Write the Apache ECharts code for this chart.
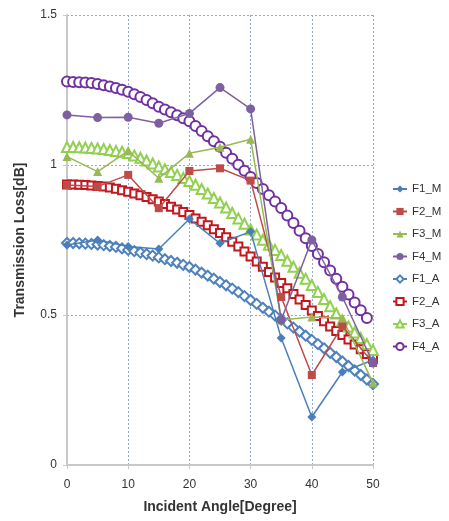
<!DOCTYPE html>
<html>
<head>
<meta charset="utf-8">
<script src="https://cdn.jsdelivr.net/npm/echarts@6/dist/echarts.min.js"></script>
<style>
  html, body { margin: 0; padding: 0; background: #fff; }
  #chart { width: 449px; height: 521px; }
</style>
</head>
<body>
<div id="chart"></div>
<script>
// Incident angles (degrees)
const measuredAngles = [0, 5, 10, 15, 20, 25, 30, 35, 40, 45, 50];
const analyticAngles = [0,1,2,3,4,5,6,7,8,9,10,11,12,13,14,15,16,17,18,19,20,21,22,23,24,25,
  26,27,28,29,30,31,32,33,34,35,36,37,38,39,40,41,42,43,44,45,46,47,48,49,50];

// Measured transmission loss [dB]
const F1_M = [0.733, 0.75, 0.728, 0.72, 0.82, 0.739, 0.778, 0.423, 0.16, 0.31, 0.35];
const F2_M = [0.933, 0.928, 0.967, 0.856, 0.98, 0.989, 0.948, 0.56, 0.30, 0.463, 0.34];
const F3_M = [1.028, 0.978, 1.047, 0.956, 1.039, 1.059, 1.086, 0.483, 0.493, 0.49, 0.273];
const F4_M = [1.167, 1.158, 1.159, 1.139, 1.172, 1.258, 1.187, 0.483, 0.75, 0.56, 0.34];

// Analytical transmission loss [dB], one value per degree
const F1_A = [0.740,0.740,0.739,0.738,0.737,0.735,0.733,0.730,0.727,0.722,0.717,0.713,0.708,0.703,0.698,
  0.692,0.686,0.680,0.674,0.667,0.660,0.651,0.641,0.631,0.621,0.610,0.599,0.588,0.576,0.563,
  0.550,0.537,0.524,0.511,0.498,0.485,0.472,0.458,0.445,0.431,0.417,0.403,0.389,0.374,0.360,
  0.345,0.330,0.315,0.300,0.285,0.270];
const F2_A = [0.935,0.935,0.934,0.933,0.932,0.930,0.928,0.925,0.921,0.916,0.911,0.905,0.899,0.893,0.886,
  0.878,0.870,0.861,0.852,0.843,0.833,0.822,0.811,0.799,0.786,0.773,0.759,0.744,0.728,0.712,
  0.695,0.678,0.661,0.643,0.625,0.607,0.589,0.570,0.552,0.533,0.515,0.497,0.479,0.462,0.447,
  0.433,0.418,0.402,0.386,0.370,0.353];
const F3_A = [1.060,1.060,1.059,1.058,1.057,1.055,1.053,1.050,1.047,1.044,1.040,1.032,1.024,1.015,1.005,
  0.995,0.986,0.977,0.967,0.957,0.947,0.934,0.920,0.905,0.890,0.875,0.858,0.840,0.822,0.804,
  0.785,0.768,0.751,0.734,0.717,0.700,0.681,0.661,0.641,0.621,0.600,0.577,0.553,0.529,0.505,
  0.482,0.462,0.442,0.423,0.403,0.383];
const F4_A = [1.278,1.277,1.276,1.275,1.273,1.270,1.266,1.262,1.257,1.251,1.244,1.236,1.227,1.217,1.206,
  1.194,1.185,1.176,1.166,1.156,1.146,1.130,1.113,1.096,1.079,1.061,1.041,1.021,1.001,0.981,
  0.960,0.940,0.920,0.899,0.878,0.857,0.832,0.807,0.781,0.756,0.730,0.703,0.676,0.648,0.621,
  0.594,0.568,0.542,0.516,0.490];

const xTicks = [0, 10, 20, 30, 40, 50];
const yTicks = [0, 0.5, 1, 1.5];

function pairs(xs, ys) { return ys.map((v, i) => [xs[i], v]); }

function measured(name, values, color, symbol, size) {
  return {
    name, type: 'line', data: pairs(measuredAngles, values),
    symbol, symbolSize: size,
    lineStyle: { color, width: 1.5 },
    itemStyle: { color, borderColor: color, borderWidth: 0 },
    z: 3
  };
}
function analytic(name, values, color, symbol, size) {
  return {
    name, type: 'line', data: pairs(analyticAngles, values),
    symbol, symbolSize: size,
    lineStyle: { color, width: 1.5 },
    itemStyle: { color: '#ffffff', borderColor: color, borderWidth: 2 },
    z: 2
  };
}

const chart = echarts.init(document.getElementById('chart'), null, { renderer: 'canvas' });
const fontFamily = '"Liberation Sans", "DejaVu Sans", sans-serif';
const gridLine = { show: true, lineStyle: { color: '#8eaad6', type: [2, 2], width: 1 } };

chart.setOption({
  animation: false,
  backgroundColor: '#ffffff',
  textStyle: { fontFamily },
  grid: { left: 67, right: 76, top: 15, bottom: 56 },
  legend: {
    orient: 'vertical', left: 387, top: 178,
    itemWidth: 14, itemHeight: 9, itemGap: 10.5,
    textStyle: { fontSize: 11.5, color: '#333', fontFamily },
    data: ['F1_M', 'F2_M', 'F3_M', 'F4_M', 'F1_A', 'F2_A', 'F3_A', 'F4_A']
  },
  xAxis: {
    type: 'value', min: xTicks[0], max: xTicks[xTicks.length - 1], interval: 10,
    name: 'Incident Angle[Degree]', nameLocation: 'middle', nameGap: 35,
    nameTextStyle: { fontSize: 14, fontWeight: 'bold', color: '#333', fontFamily },
    axisLine: { lineStyle: { color: '#c8c8c8', width: 2 } },
    axisTick: { show: true, length: 4, lineStyle: { color: '#c8c8c8' } },
    axisLabel: { fontSize: 12, color: '#333', margin: 14 },
    splitLine: gridLine
  },
  yAxis: {
    type: 'value', min: yTicks[0], max: yTicks[yTicks.length - 1], interval: 0.5,
    name: 'Transmission Loss[dB]', nameLocation: 'middle', nameGap: 40,
    nameTextStyle: { fontSize: 14, fontWeight: 'bold', color: '#333', fontFamily },
    axisLine: { show: true, lineStyle: { color: '#c8c8c8', width: 2 } },
    axisTick: { show: true, length: 4, lineStyle: { color: '#c8c8c8' } },
    axisLabel: { fontSize: 12, color: '#333', margin: 10 },
    splitLine: gridLine
  },
  series: [
    analytic('F1_A', F1_A, '#4f81bd', 'diamond', 10),
    analytic('F2_A', F2_A, '#c0181f', 'rect', 8),
    analytic('F3_A', F3_A, '#92d050', 'triangle', 10),
    analytic('F4_A', F4_A, '#7030a0', 'circle', 10),
    measured('F1_M', F1_M, '#4a7ebb', 'diamond', 9),
    measured('F2_M', F2_M, '#be4b48', 'rect', 8),
    measured('F3_M', F3_M, '#98b954', 'triangle', 9),
    measured('F4_M', F4_M, '#7d60a0', 'circle', 9)
  ]
});
</script>
</body>
</html>
